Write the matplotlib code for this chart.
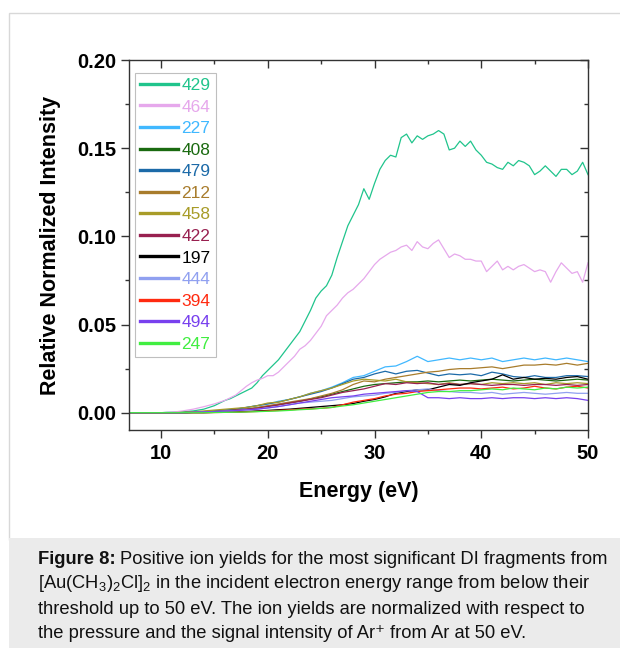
import numpy as np
import matplotlib
matplotlib.use("Agg")
import matplotlib.pyplot as plt
from matplotlib.ticker import MultipleLocator, FormatStrFormatter
from matplotlib.patches import Rectangle

plt.rcParams['font.family'] = ['Liberation Sans', 'DejaVu Sans']
plt.rcParams['mathtext.fontset'] = 'custom'
plt.rcParams['mathtext.rm'] = 'Liberation Sans'
plt.rcParams['mathtext.bf'] = 'Liberation Sans:bold'
plt.rcParams['mathtext.default'] = 'regular'

# energy grids (eV)
e_fine = np.arange(7, 50.01, 0.5)
e_coarse = np.arange(7, 51, 1)

# the two large yields, read every 0.5 eV
y429 = [0, 0, 0, 0, 0, 0, 0,
        0.0002, 0.0003, 0.0005, 0.0006, 0.0008, 0.001, 0.0015, 0.002, 0.003, 0.004,
        0.0055, 0.007, 0.008, 0.0095, 0.011, 0.0125, 0.014, 0.017, 0.021, 0.024,
        0.027, 0.030, 0.034, 0.038, 0.042, 0.046, 0.052, 0.058, 0.065, 0.069,
        0.072, 0.078, 0.088, 0.097, 0.106, 0.112, 0.118, 0.127, 0.121, 0.130,
        0.138, 0.143, 0.146, 0.145, 0.156, 0.158, 0.153, 0.157, 0.155, 0.157,
        0.158, 0.160, 0.158, 0.149, 0.150, 0.154, 0.151, 0.154, 0.149, 0.146,
        0.142, 0.141, 0.139, 0.138, 0.142, 0.140, 0.143, 0.142, 0.140, 0.135,
        0.137, 0.140, 0.137, 0.134, 0.138, 0.138, 0.135, 0.137, 0.142, 0.135]
y464 = [0, 0, 0, 0, 0, 0, 0,
        0.0002, 0.0004, 0.0006, 0.001, 0.0015, 0.002, 0.0027, 0.0034, 0.0042, 0.005,
        0.006, 0.007, 0.0085, 0.010, 0.0125, 0.015, 0.017, 0.0185, 0.0195, 0.021,
        0.021, 0.023, 0.026, 0.029, 0.032, 0.036, 0.038, 0.041, 0.045, 0.049,
        0.055, 0.058, 0.061, 0.065, 0.068, 0.070, 0.073, 0.076, 0.080, 0.084,
        0.087, 0.089, 0.091, 0.092, 0.094, 0.095, 0.092, 0.097, 0.094, 0.093,
        0.096, 0.098, 0.093, 0.088, 0.090, 0.089, 0.087, 0.087, 0.086, 0.086,
        0.080, 0.083, 0.086, 0.081, 0.083, 0.081, 0.083, 0.084, 0.082, 0.080,
        0.081, 0.080, 0.074, 0.080, 0.085, 0.082, 0.079, 0.080, 0.074, 0.085]

# the smaller yields, read every 1 eV
y227 = [0, 0, 0, 0, 0, 0, 0.0003, 0.0006, 0.001, 0.0015,
        0.002, 0.003, 0.004, 0.005, 0.0065, 0.0075, 0.009, 0.011, 0.0125, 0.0145,
        0.017, 0.020, 0.021, 0.0235, 0.026, 0.0265, 0.029, 0.032, 0.029, 0.030,
        0.031, 0.030, 0.031, 0.030, 0.031, 0.029, 0.030, 0.031, 0.030, 0.031,
        0.030, 0.031, 0.030, 0.029]
y408 = [0, 0, 0, 0, 0, 0, 0.0002, 0.0004, 0.0007, 0.001,
        0.0015, 0.002, 0.0028, 0.0036, 0.0045, 0.0055, 0.0065, 0.0078, 0.009, 0.0105,
        0.012, 0.0135, 0.015, 0.016, 0.0165, 0.017, 0.0175, 0.0175, 0.018, 0.0175,
        0.018, 0.0185, 0.018, 0.0185, 0.019, 0.0185, 0.018, 0.0185, 0.019, 0.0185,
        0.018, 0.0185, 0.019, 0.0185]
y479 = [0, 0, 0, 0, 0, 0, 0.0003, 0.0006, 0.001, 0.0015,
        0.002, 0.003, 0.004, 0.005, 0.006, 0.0075, 0.009, 0.0105, 0.012, 0.014,
        0.0165, 0.019, 0.020, 0.022, 0.0235, 0.022, 0.0235, 0.024, 0.0225, 0.021,
        0.022, 0.0215, 0.022, 0.021, 0.023, 0.022, 0.0205, 0.020, 0.021, 0.020,
        0.020, 0.021, 0.021, 0.0205]
y212 = [0, 0, 0, 0, 0, 0, 0.0002, 0.0004, 0.0007, 0.001,
        0.0015, 0.002, 0.003, 0.004, 0.005, 0.006, 0.007, 0.008, 0.0095, 0.011,
        0.013, 0.016, 0.018, 0.0175, 0.019, 0.020, 0.021, 0.022, 0.023, 0.0235,
        0.0245, 0.025, 0.025, 0.0255, 0.026, 0.025, 0.026, 0.027, 0.027, 0.0275,
        0.027, 0.028, 0.027, 0.028]
y458 = [0, 0, 0, 0, 0, 0.0002, 0.0005, 0.001, 0.0015, 0.002,
        0.0025, 0.003, 0.004, 0.0055, 0.006, 0.0075, 0.009, 0.011, 0.0125, 0.014,
        0.016, 0.018, 0.019, 0.0185, 0.018, 0.019, 0.0175, 0.017, 0.0165, 0.016,
        0.017, 0.016, 0.0165, 0.016, 0.017, 0.0165, 0.017, 0.0165, 0.017, 0.016,
        0.017, 0.0165, 0.017, 0.0165]
y422 = [0, 0, 0, 0, 0, 0, 0.0002, 0.0004, 0.0006, 0.001,
        0.0015, 0.002, 0.0025, 0.0035, 0.0045, 0.0055, 0.0065, 0.0075, 0.0085, 0.010,
        0.0115, 0.0125, 0.0135, 0.015, 0.0165, 0.016, 0.017, 0.0165, 0.017, 0.016,
        0.0165, 0.016, 0.0165, 0.016, 0.0155, 0.016, 0.016, 0.0155, 0.016, 0.016,
        0.0155, 0.016, 0.0155, 0.016]
y197 = [0, 0, 0, 0, 0, 0, 0, 0, 0.0002, 0.0003,
        0.0005, 0.0007, 0.001, 0.0013, 0.0017, 0.002, 0.0025, 0.003, 0.0035, 0.004,
        0.0045, 0.0052, 0.0065, 0.0075, 0.009, 0.011, 0.012, 0.013, 0.013, 0.0145,
        0.016, 0.0155, 0.017, 0.018, 0.019, 0.0215, 0.019, 0.020, 0.019, 0.0195,
        0.019, 0.020, 0.0205, 0.019]
y444 = [0, 0, 0, 0, 0, 0, 0.0002, 0.0004, 0.0006, 0.0009,
        0.0012, 0.0016, 0.002, 0.0028, 0.0035, 0.0045, 0.0055, 0.006, 0.0065, 0.007,
        0.008, 0.009, 0.0095, 0.010, 0.011, 0.0115, 0.0125, 0.013, 0.0135, 0.0125,
        0.012, 0.0115, 0.0115, 0.011, 0.0115, 0.0105, 0.011, 0.0115, 0.011, 0.0105,
        0.011, 0.0115, 0.011, 0.011]
y394 = [0, 0, 0, 0, 0, 0, 0, 0, 0.0001, 0.0002,
        0.0003, 0.0005, 0.0007, 0.001, 0.0013, 0.0016, 0.002, 0.0022, 0.0025, 0.003,
        0.0045, 0.006, 0.007, 0.008, 0.0095, 0.0105, 0.011, 0.012, 0.0125, 0.013,
        0.0135, 0.014, 0.014, 0.0135, 0.014, 0.0145, 0.0135, 0.014, 0.015, 0.014,
        0.0135, 0.0145, 0.015, 0.014]
y494 = [0, 0, 0, 0, 0, 0, 0.0002, 0.0004, 0.0006, 0.0009,
        0.0012, 0.0016, 0.002, 0.0027, 0.0035, 0.0045, 0.0055, 0.0065, 0.0075, 0.0085,
        0.009, 0.0095, 0.0105, 0.011, 0.0115, 0.012, 0.0125, 0.012, 0.0085, 0.0085,
        0.008, 0.0085, 0.008, 0.008, 0.0085, 0.008, 0.0085, 0.0085, 0.008, 0.0085,
        0.008, 0.0085, 0.008, 0.007]
y247 = [0, 0, 0, 0, 0, 0, 0, 0, 0.0001, 0.0002,
        0.0003, 0.0004, 0.0006, 0.0008, 0.001, 0.0013, 0.0017, 0.002, 0.0025, 0.003,
        0.0038, 0.0045, 0.0055, 0.0065, 0.0075, 0.0085, 0.0095, 0.0105, 0.0115, 0.012,
        0.012, 0.0125, 0.0125, 0.013, 0.0135, 0.013, 0.014, 0.0135, 0.013, 0.014,
        0.0135, 0.0145, 0.014, 0.0145]

labels = ['429', '464', '227', '408', '479', '212', '458', '422', '197', '444', '394', '494', '247']
series = [y429, y464, y227, y408, y479, y212, y458, y422, y197, y444, y394, y494, y247]
colors = ['#20c48c', '#e6a8ec', '#40b8ff', '#1a6a10', '#1c6aa8', '#a87c2c', '#a89c28',
          '#982050', '#000000', '#90a0f0', '#ff2a10', '#7840ee', '#40ee40']

fig = plt.figure(figsize=(6.2, 6.48), dpi=100)
ax = fig.add_axes([129 / 620, 1 - 430 / 648, (588 - 129) / 620, (430 - 60) / 648])

for lab, ys, c in zip(labels, series, colors):
    xs = e_fine if len(ys) == len(e_fine) else e_coarse
    ax.plot(xs, ys, color=c, lw=0.9, label=lab)

ax.set_xlim(7, 50)
ax.set_ylim(-0.0098, 0.20)
ax.xaxis.set_major_locator(MultipleLocator(10))
ax.xaxis.set_minor_locator(MultipleLocator(5))
ax.yaxis.set_major_locator(MultipleLocator(0.05))
ax.yaxis.set_minor_locator(MultipleLocator(0.025))
ax.yaxis.set_major_formatter(FormatStrFormatter('%.2f'))
ax.tick_params(which='both', top=True, right=True, direction='out', width=1.0, color='#333333')
ax.tick_params(which='major', length=5.5, labelsize=14.5)
ax.tick_params(which='minor', length=3)
ax.tick_params(axis='x', which='major', pad=4.5)
ax.tick_params(axis='y', which='major', pad=3.5)
for t in ax.xaxis.get_major_ticks() + ax.xaxis.get_minor_ticks():
    t.tick2line.set_marker(3)  # inward on top
for t in ax.yaxis.get_major_ticks() + ax.yaxis.get_minor_ticks():
    t.tick2line.set_marker(0)  # inward on right
for lbl in ax.get_xticklabels() + ax.get_yticklabels():
    lbl.set_fontweight('bold')
for sp in ax.spines.values():
    sp.set_linewidth(1.0)
    sp.set_color('#333333')

ax.set_xlabel('Energy (eV)', fontsize=15.5, fontweight='bold', labelpad=13)
ax.set_ylabel('Relative Normalized Intensity', fontsize=15.5, fontweight='bold', labelpad=12)

leg = ax.legend(loc='upper left', bbox_to_anchor=(0.012, 0.966), fontsize=12.5,
                labelcolor='linecolor', frameon=True, fancybox=False, edgecolor='#b0b0b0',
                handlelength=2.2, handletextpad=0.2, labelspacing=0.37,
                borderpad=0.3, borderaxespad=0)
leg.get_frame().set_linewidth(0.8)
for h in leg.legend_handles:
    h.set_linewidth(2.4)

# panel frame and caption box
fig.patches.append(Rectangle((9 / 620, 1 - 540 / 648), 1.0, (540 - 13) / 648,
                             transform=fig.transFigure, fill=False,
                             edgecolor='#d8d8d8', lw=1.0))
fig.patches.append(Rectangle((9 / 620, 0), 1.0, 1 - 538 / 648,
                             transform=fig.transFigure, facecolor='#ebebeb',
                             edgecolor='none'))

caption = [
    'Positive ion yields for the most significant DI fragments from',
    r'[Au(CH$_3$)$_2$Cl]$_2$ in the incident electron energy range from below their',
    'threshold up to 50 eV. The ion yields are normalized with respect to',
    'the pressure and the signal intensity of Ar\u207a from Ar at 50 eV.',
]
fig.canvas.draw()
renderer = fig.canvas.get_renderer()
head = fig.text(38 / 620, 1 - 559 / 648, 'Figure 8:', fontsize=13.2, fontweight='bold',
                ha='left', va='center', color='#111111')
head_w = head.get_window_extent(renderer).width
for i, line in enumerate(caption):
    x0 = 38 / 620
    if i == 0:
        x0 = (38 + head_w + 4) / 620
    fig.text(x0, 1 - (559 + 25 * i) / 648, line, fontsize=13.2,
             ha='left', va='center', color='#111111')

fig.savefig('out.png', dpi=100)
